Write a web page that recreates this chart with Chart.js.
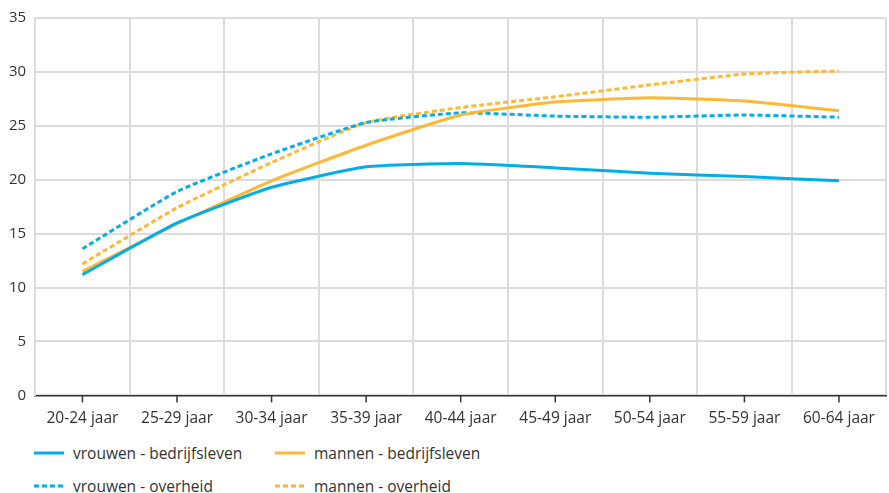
<!DOCTYPE html>
<html>
<head>
<meta charset="utf-8">
<script src="https://cdn.jsdelivr.net/npm/chart.js@4"></script>
<style>
    body { margin: 0; background: #fff; font-family: "Open Sans", sans-serif; }
    #wrap { position: relative; width: 889px; height: 442px; }
    #legend { display: grid; grid-template-columns: 241px 300px; row-gap: 11px; padding-left: 34px; padding-top: 0px; }
    .item { display: flex; align-items: center; font-size: 15.5px; color: #333; height: 22px; }
    .item svg { margin-right: 9px; }
</style>
</head>
<body>
<div id="wrap"><canvas id="ageChart"></canvas></div>
<div id="legend"></div>
<script>
const categories = ['20-24 jaar', '25-29 jaar', '30-34 jaar', '35-39 jaar', '40-44 jaar', '45-49 jaar', '50-54 jaar', '55-59 jaar', '60-64 jaar'];
const vrouwenBedrijf = [11.2, 16.0, 19.3, 21.2, 21.5, 21.1, 20.6, 20.3, 19.9];
const mannenBedrijf = [11.5, 15.9, 19.9, 23.2, 26.0, 27.2, 27.6, 27.3, 26.4];
const vrouwenOverheid = [13.6, 18.9, 22.4, 25.3, 26.2, 25.9, 25.8, 26.0, 25.8];
const mannenOverheid = [12.2, 17.4, 21.6, 25.3, 26.7, 27.7, 28.8, 29.8, 30.1];
const yTicks = [0, 5, 10, 15, 20, 25, 30, 35];

const blue = '#01aeea';
const orange = '#ffb833';
const dash = [5, 3];

const series = [
    { label: 'vrouwen - bedrijfsleven', data: vrouwenBedrijf, color: blue, dashed: false },
    { label: 'mannen - bedrijfsleven', data: mannenBedrijf, color: orange, dashed: false },
    { label: 'vrouwen - overheid', data: vrouwenOverheid, color: blue, dashed: true },
    { label: 'mannen - overheid', data: mannenOverheid, color: orange, dashed: true }
];

// small tick marks under the axis, centred on each category
const centerTicks = {
    id: 'centerTicks',
    afterDraw(chart) {
        const x = chart.scales.x;
        const ctx = chart.ctx;
        ctx.save();
        ctx.strokeStyle = '#333';
        ctx.lineWidth = 1.5;
        categories.forEach((c, i) => {
            const px = x.getPixelForValue(i);
            ctx.beginPath();
            ctx.moveTo(px, x.top);
            ctx.lineTo(px, x.top + 7);
            ctx.stroke();
        });
        ctx.restore();
    }
};

const ctx = document.getElementById('ageChart').getContext('2d');
const chart = new Chart(ctx, {
    type: 'line',
    data: {
        labels: categories,
        datasets: series.map(s => ({
            label: s.label,
            data: s.data,
            borderColor: s.color,
            backgroundColor: s.color,
            borderWidth: 3,
            borderDash: s.dashed ? dash : [],
            pointRadius: 0,
            tension: 0.15,
            fill: false
        }))
    },
    options: {
        responsive: true,
        maintainAspectRatio: false,
        animation: false,
        layout: { padding: { top: 11, right: 1, left: 0, bottom: 0 } },
        plugins: {
            legend: { display: false },
            tooltip: { enabled: false }
        },
        scales: {
            x: {
                offset: true,
                grid: { offset: true, drawTicks: false, color: '#dcdcdc', lineWidth: 2 },
                border: { color: '#333', width: 1.5 },
                ticks: { color: '#333', padding: 14, maxRotation: 0, font: { family: 'Open Sans', size: 15.5 } }
            },
            y: {
                min: 0,
                max: 35,
                afterBuildTicks: axis => { axis.ticks = yTicks.map(v => ({ value: v })); },
                grid: { color: '#dcdcdc', lineWidth: 2, drawTicks: false },
                border: { color: '#dcdcdc', width: 2 },
                ticks: { color: '#333', padding: 9, font: { family: 'Open Sans', size: 15 } }
            }
        }
    },
    plugins: [centerTicks]
});

// legend in two columns
const legend = document.getElementById('legend');
series.forEach(s => {
    const item = document.createElement('div');
    item.className = 'item';
    item.innerHTML = `<svg width="30" height="4"><line x1="0" y1="2" x2="30" y2="2" stroke="${s.color}" stroke-width="3" ${s.dashed ? 'stroke-dasharray="5 3"' : ''}/></svg><span>${s.label}</span>`;
    legend.appendChild(item);
});
</script>
</body>
</html>
